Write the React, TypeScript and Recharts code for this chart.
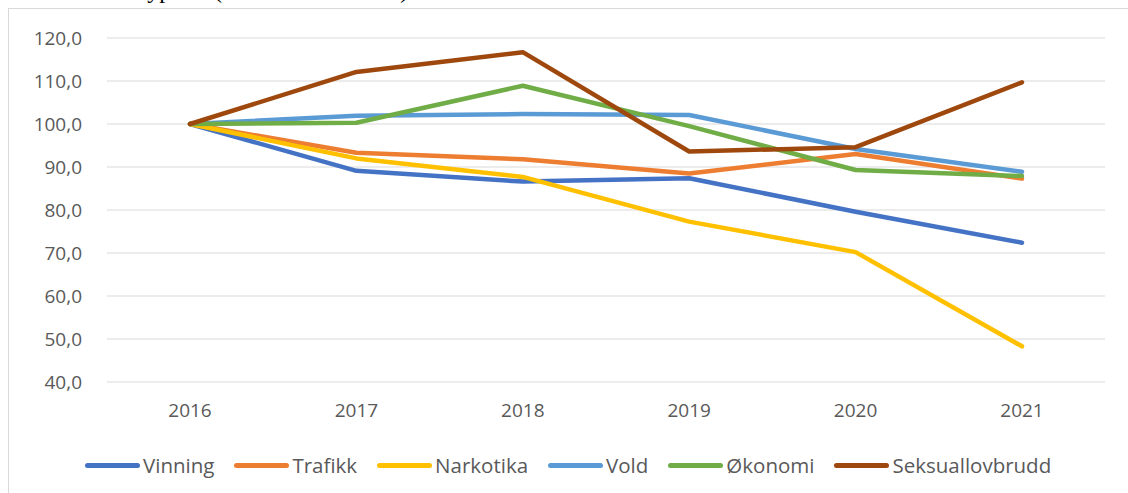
import { LineChart, Line, XAxis, YAxis, CartesianGrid, Legend } from 'recharts'

const years = ['2016', '2017', '2018', '2019', '2020', '2021']

const vinning = [100, 89.1, 86.6, 87.4, 79.6, 72.4]
const trafikk = [100, 93.3, 91.8, 88.5, 93.0, 87.3]
const narkotika = [100, 92.0, 87.7, 77.3, 70.2, 48.3]
const vold = [100, 101.9, 102.3, 102.1, 94.2, 88.9]
const okonomi = [100, 100.3, 108.9, 99.5, 89.3, 87.9]
const seksual = [100, 112.1, 116.7, 93.6, 94.6, 109.7]

const yTicks = [40, 50, 60, 70, 80, 90, 100, 110, 120]

const series = [
  { key: 'Vinning', values: vinning, color: '#4472C4' },
  { key: 'Trafikk', values: trafikk, color: '#ED7D31' },
  { key: 'Narkotika', values: narkotika, color: '#FFC000' },
  { key: 'Vold', values: vold, color: '#5B9BD5' },
  { key: 'Økonomi', values: okonomi, color: '#70AD47' },
  { key: 'Seksuallovbrudd', values: seksual, color: '#9E480E' },
]

const data = years.map((year, i) => {
  const row: Record<string, string | number> = { year }
  series.forEach(s => {
    row[s.key] = s.values[i]
  })
  return row
})

const font = '"Open Sans", sans-serif'
const textColor = '#595959'

// y labels sit 23px left of the plot area, right aligned
function YTick({ x, y, payload }: any) {
  return (
    <text
      x={x - 23}
      y={y}
      dy="0.355em"
      textAnchor="end"
      fill={textColor}
      fontSize={19}
      fontFamily={font}
    >
      {Number(payload.value).toFixed(1).replace('.', ',')}
    </text>
  )
}

function ChartLegend() {
  return (
    <div style={{ display: 'flex', alignItems: 'center', gap: 20, paddingLeft: 76 }}>
      {series.map(s => (
        <div key={s.key} style={{ display: 'flex', alignItems: 'center' }}>
          <span
            style={{
              display: 'inline-block',
              width: 55,
              height: 5,
              borderRadius: 3,
              background: s.color,
            }}
          />
          <span
            style={{
              marginLeft: 3,
              fontFamily: font,
              fontSize: 20.5,
              color: textColor,
              lineHeight: '26px',
            }}
          >
            {s.key}
          </span>
        </div>
      ))}
    </div>
  )
}

export default function App() {
  return (
    <div style={{ position: 'absolute', top: 0, left: 0, width: 1128, height: 493, background: '#fff' }}>
      <svg style={{ position: 'absolute', top: 0, left: 0 }} width={1128} height={8}>
        <text x={190} y={-2} textAnchor="end" fontFamily="Liberation Serif" fontSize={24} fill="#000">
          lovbruddstyper
        </text>
        <text x={214} y={-2} fontFamily="Liberation Serif" fontSize={24} fill="#000">
          (indeks 2016 = 100)
        </text>
      </svg>
      <div
        style={{
          position: 'absolute',
          top: 8,
          left: 8,
          width: 1120,
          height: 485,
          boxSizing: 'border-box',
          borderTop: '1px solid #d9d9d9',
          borderLeft: '1px solid #d9d9d9',
        }}
      >
        <LineChart
          width={1119}
          height={484}
          data={data}
          margin={{ top: 29, right: 23, left: 0, bottom: 55 }}
        >
          <CartesianGrid vertical={false} stroke="#d9d9d9" strokeWidth={1} />
          <XAxis
            dataKey="year"
            axisLine={false}
            tickLine={false}
            tickSize={0}
            tickMargin={22}
            padding={{ left: 83, right: 83 }}
            tick={{ fill: textColor, fontSize: 19, fontFamily: font }}
          />
          <YAxis
            width={98}
            domain={[40, 120]}
            ticks={yTicks}
            axisLine={false}
            tickLine={false}
            tickSize={0}
            tick={<YTick />}
          />
          <Legend
            content={() => <ChartLegend />}
            wrapperStyle={{ position: 'absolute', top: 443, left: 0, width: 1119 }}
          />
          {series.map(s => (
            <Line
              key={s.key}
              type="linear"
              dataKey={s.key}
              stroke={s.color}
              strokeWidth={4.5}
              strokeLinecap="round"
              strokeLinejoin="round"
              dot={false}
              activeDot={false}
              isAnimationActive={false}
            />
          ))}
        </LineChart>
      </div>
    </div>
  )
}
